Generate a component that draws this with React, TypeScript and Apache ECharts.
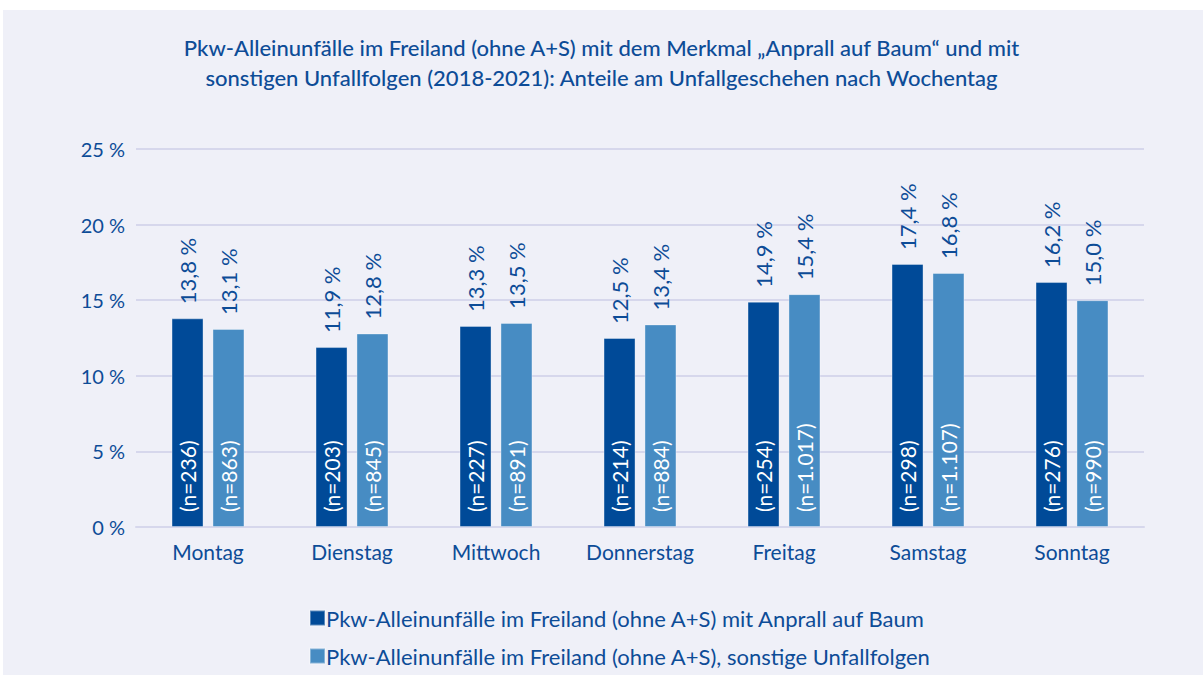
import React, { useEffect, useRef } from "react";
import * as echarts from "echarts";

const categories = ["Montag", "Dienstag", "Mittwoch", "Donnerstag", "Freitag", "Samstag", "Sonntag"];
const baumValues = [13.8, 11.9, 13.3, 12.5, 14.9, 17.4, 16.2];
const sonstigeValues = [13.1, 12.8, 13.5, 13.4, 15.4, 16.8, 15.0];
const baumN = ["236", "203", "227", "214", "254", "298", "276"];
const sonstigeN = ["863", "845", "891", "884", "1.017", "1.107", "990"];
const seriesNames = [
  "Pkw-Alleinunfälle im Freiland (ohne A+S) mit Anprall auf Baum",
  "Pkw-Alleinunfälle im Freiland (ohne A+S), sonstige Unfallfolgen",
];
const titleText =
  "Pkw-Alleinunfälle im Freiland (ohne A+S) mit dem Merkmal „Anprall auf Baum“ und mit\nsonstigen Unfallfolgen (2018-2021): Anteile am Unfallgeschehen nach Wochentag";

const DARK = "#004A98";
const LIGHT = "#478CC3";
const TEXT = "#0D4C97";
const FONT = "Lato, 'Open Sans', sans-serif";

export default function App() {
  const ref = useRef<HTMLDivElement>(null);
  useEffect(() => {
    if (!ref.current) return;
    const chart = echarts.init(ref.current, null, { renderer: "svg" });
    const fmt = (p: any) => Number(p.value).toFixed(1).replace(".", ",") + " %";
    const valueLabel = {
      show: true,
      position: "top",
      rotate: 90,
      align: "left",
      verticalAlign: "middle",
      distance: 14,
      color: TEXT,
      fontSize: 22,
      fontFamily: FONT,
      formatter: fmt,
    };
    const nLabel = (arr: string[]) => ({
      show: true,
      position: "insideBottom",
      rotate: 90,
      align: "left",
      verticalAlign: "middle",
      distance: 15,
      color: "#ffffff",
      fontSize: 21,
      fontFamily: FONT,
      formatter: (p: any) => "(n=" + arr[p.dataIndex] + ")",
    });
    const barCommon = {
      type: "bar",
      barWidth: 32,
      barGap: "28%",
    };
    chart.setOption({
      animation: false,
      backgroundColor: "#ffffff",
      graphic: [
        {
          type: "rect",
          z: -10,
          silent: true,
          shape: { x: 3, y: 10, width: 1200, height: 665 },
          style: { fill: "#EFF0F8" },
        },
      ],
      title: {
        text: titleText,
        left: "center",
        top: 27,
        textStyle: {
          color: TEXT,
          fontSize: 22,
          fontWeight: 500,
          lineHeight: 30,
          fontFamily: FONT,
        },
      },
      legend: {
        orient: "vertical",
        left: 304,
        top: 602,
        itemWidth: 15,
        itemHeight: 15,
        itemGap: 16,
        icon: "rect",
        data: seriesNames,
        textStyle: { color: TEXT, fontSize: 22, fontFamily: FONT, padding: [0, 0, 0, -4] },
      },
      grid: { left: 136, right: 59, top: 149, bottom: 148 },
      xAxis: [
        {
          type: "category",
          data: categories,
          axisLine: { lineStyle: { color: "#D6D7EC", width: 2 } },
          axisTick: { show: false },
          axisLabel: { color: TEXT, fontSize: 21, fontFamily: FONT, margin: 14 },
        },
        {
          type: "category",
          data: categories,
          show: false,
        },
      ],
      yAxis: {
        type: "value",
        min: 0,
        max: 25,
        interval: 5,
        axisLine: { show: false },
        axisTick: { show: false },
        splitLine: { lineStyle: { color: "#D6D7EC", width: 2 } },
        axisLabel: {
          color: TEXT,
          fontSize: 20,
          fontFamily: FONT,
          margin: 11,
          formatter: "{value} %",
        },
      },
      series: [
        {
          ...barCommon,
          name: seriesNames[0],
          data: baumValues,
          itemStyle: { color: DARK, borderColor: "rgba(255,255,255,0.35)", borderWidth: 1 },
          label: valueLabel,
        },
        {
          ...barCommon,
          name: seriesNames[1],
          data: sonstigeValues,
          itemStyle: { color: LIGHT, borderColor: "rgba(255,255,255,0.35)", borderWidth: 1 },
          label: valueLabel,
        },
        {
          ...barCommon,
          name: "nBaum",
          xAxisIndex: 1,
          data: baumValues,
          silent: true,
          itemStyle: { color: "rgba(0,0,0,0)" },
          label: nLabel(baumN),
          z: 5,
        },
        {
          ...barCommon,
          name: "nSonst",
          xAxisIndex: 1,
          data: sonstigeValues,
          silent: true,
          itemStyle: { color: "rgba(0,0,0,0)" },
          label: nLabel(sonstigeN),
          z: 5,
        },
      ],
    });
    return () => chart.dispose();
  }, []);
  return (
    <div
      ref={ref}
      style={{ position: "fixed", left: 0, top: 0, width: 1203, height: 675 }}
    />
  );
}
